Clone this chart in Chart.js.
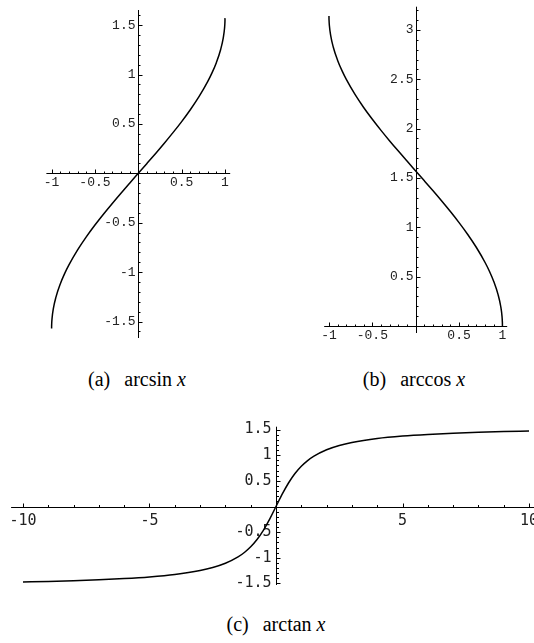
<!DOCTYPE html>
<html>
<head>
<meta charset="utf-8">
<script src="https://cdn.jsdelivr.net/npm/chart.js@4.4.1/dist/chart.umd.min.js"></script>
<style>
  html, body { margin:0; padding:0; background:#fff; width:534px; height:643px; overflow:hidden; }
  canvas { position:absolute; }
  .cap { position:absolute; font-family:"Liberation Serif", "Times New Roman", serif; font-size:20px; line-height:20px; color:#000; white-space:nowrap; transform:translateX(-50%); }
  .cap i { font-style:italic; }
  .cap .sep { display:inline-block; width:0.7em; }
</style>
</head>
<body>
<canvas id="ca" width="270" height="345" style="left:0;top:0"></canvas>
<canvas id="cb" width="254" height="345" style="left:280px;top:0"></canvas>
<canvas id="cc" width="560" height="200" style="left:0;top:400px"></canvas>
<div class="cap" style="left:137px;top:369px">(a)<span class="sep"></span>arcsin <i>x</i></div>
<div class="cap" style="left:414px;top:369px">(b)<span class="sep"></span>arccos <i>x</i></div>
<div class="cap" style="left:276px;top:614px">(c)<span class="sep"></span>arctan <i>x</i></div>
<script>
// ---- data ----
const asinX = [-1, -0.9999, -0.999, -0.995, -0.98, -0.95, -0.9, -0.85, -0.8, -0.7, -0.6, -0.5, -0.4, -0.3, -0.2, -0.1, 0,
               0.1, 0.2, 0.3, 0.4, 0.5, 0.6, 0.7, 0.8, 0.85, 0.9, 0.95, 0.98, 0.995, 0.999, 0.9999, 1];
const asinY = [-1.5708, -1.5566, -1.5261, -1.4707, -1.3705, -1.2532, -1.1198, -1.0160, -0.9273, -0.7754, -0.6435, -0.5236, -0.4115, -0.3047, -0.2014, -0.1002, 0,
               0.1002, 0.2014, 0.3047, 0.4115, 0.5236, 0.6435, 0.7754, 0.9273, 1.0160, 1.1198, 1.2532, 1.3705, 1.4707, 1.5261, 1.5566, 1.5708];
const acosX = asinX;
const acosY = [3.1416, 3.1274, 3.0969, 3.0415, 2.9413, 2.8240, 2.6906, 2.5868, 2.4981, 2.3462, 2.2143, 2.0944, 1.9823, 1.8755, 1.7722, 1.6710, 1.5708,
               1.4706, 1.3694, 1.2661, 1.1593, 1.0472, 0.9273, 0.7954, 0.6435, 0.5548, 0.4510, 0.3176, 0.2003, 0.1001, 0.0447, 0.0141, 0];
const atanX = [-10, -9, -8, -7, -6, -5, -4, -3, -2.5, -2, -1.5, -1.25, -1, -0.75, -0.5, -0.25, 0,
               0.25, 0.5, 0.75, 1, 1.25, 1.5, 2, 2.5, 3, 4, 5, 6, 7, 8, 9, 10];
const atanY = [-1.4711, -1.4601, -1.4464, -1.4289, -1.4056, -1.3734, -1.3258, -1.2490, -1.1903, -1.1071, -0.9828, -0.8961, -0.7854, -0.6435, -0.4636, -0.2450, 0,
               0.2450, 0.4636, 0.6435, 0.7854, 0.8961, 0.9828, 1.1071, 1.1903, 1.2490, 1.3258, 1.3734, 1.4056, 1.4289, 1.4464, 1.4601, 1.4711];

const aXTicks = [-1, -0.5, 0.5, 1];        const aXLabels = ['-1', '-0.5', '0.5', '1'];
const aYTicks = [-1.5, -1, -0.5, 0.5, 1, 1.5]; const aYLabels = ['-1.5', '-1', '-0.5', '0.5', '1', '1.5'];
const bXTicks = [-1, -0.5, 0.5, 1];        const bXLabels = ['-1', '-0.5', '0.5', '1'];
const bYTicks = [0.5, 1, 1.5, 2, 2.5, 3];  const bYLabels = ['0.5', '1', '1.5', '2', '2.5', '3'];
const cXTicks = [-10, -5, 5, 10];          const cXLabels = ['-10', '-5', '5', '10'];
const cYTicks = [-1.5, -1, -0.5, 0.5, 1, 1.5]; const cYLabels = ['-1.5', '-1', '-0.5', '0.5', '1', '1.5'];

// ---- axes plugin (Mathematica style, axes through origin) ----
function mathAxes(cfg) {
  return {
    id: 'mathAxes',
    beforeDatasetsDraw(chart) {
      const ctx = chart.ctx, a = chart.chartArea;
      const sx = chart.scales.x, sy = chart.scales.y;
      const x0 = Math.round(sx.getPixelForValue(0)) + 0.5;
      const y0 = Math.round(sy.getPixelForValue(0)) + 0.5;
      ctx.save();
      ctx.strokeStyle = '#000';
      ctx.lineWidth = 1;
      ctx.beginPath();
      ctx.moveTo(a.left, y0); ctx.lineTo(a.right, y0);
      ctx.moveTo(x0, a.top); ctx.lineTo(x0, a.bottom);
      const near = (v, arr) => arr.some(t => Math.abs(t - v) < 1e-6);
      for (let k = Math.ceil(sx.min / cfg.xMinor - 1e-9); k * cfg.xMinor <= sx.max + 1e-9; k++) {
        const v = k * cfg.xMinor;
        if (Math.abs(v) < 1e-9) continue;
        const len = near(v, cfg.xTicks) ? cfg.major : cfg.minor;
        const p = Math.round(sx.getPixelForValue(v)) + 0.5;
        ctx.moveTo(p, y0); ctx.lineTo(p, y0 - len);
      }
      for (let k = Math.ceil(sy.min / cfg.yMinor - 1e-9); k * cfg.yMinor <= sy.max + 1e-9; k++) {
        const v = k * cfg.yMinor;
        if (Math.abs(v) < 1e-9) continue;
        const len = near(v, cfg.yTicks) ? cfg.major : cfg.minor;
        const p = Math.round(sy.getPixelForValue(v)) + 0.5;
        ctx.moveTo(x0, p); ctx.lineTo(x0 + len, p);
      }
      ctx.stroke();
      ctx.fillStyle = '#222';
      ctx.font = cfg.font;
      ctx.textBaseline = 'middle';
      ctx.textAlign = 'center';
      cfg.xTicks.forEach((v, i) => ctx.fillText(cfg.xLabels[i], sx.getPixelForValue(v), y0 + cfg.xLabOff));
      ctx.textAlign = 'right';
      cfg.yTicks.forEach((v, i) => ctx.fillText(cfg.yLabels[i], x0 - cfg.yLabOff, sy.getPixelForValue(v)));
      ctx.restore();
    }
  };
}

function makeChart(id, xs, ys, range, pad, cfg) {
  return new Chart(document.getElementById(id), {
    type: 'scatter',
    data: { datasets: [{
      data: xs.map((x, i) => ({ x: x, y: ys[i] })),
      showLine: true, pointRadius: 0, borderColor: '#000', borderWidth: 1.5,
      fill: false, cubicInterpolationMode: 'monotone'
    }] },
    options: {
      responsive: false, animation: false, events: [],
      devicePixelRatio: 1,
      layout: { padding: pad },
      plugins: { legend: { display: false }, tooltip: { enabled: false } },
      scales: {
        x: { type: 'linear', min: range[0], max: range[1], display: false },
        y: { type: 'linear', min: range[2], max: range[3], display: false }
      }
    },
    plugins: [mathAxes(cfg)]
  });
}

const courier = '13px "Liberation Mono", "Courier New", monospace';
makeChart('ca', asinX, asinY, [-1.06, 1.06, -1.667, 1.653],
  { left: 46.4, right: 39.8, top: 10, bottom: 7 },
  { xTicks: aXTicks, xLabels: aXLabels, yTicks: aYTicks, yLabels: aYLabels,
    xMinor: 0.1, yMinor: 0.1, major: 4, minor: 2, font: courier, xLabOff: 9, yLabOff: 3 });
makeChart('cb', acosX, acosY, [-1.055, 1.055, -0.0707, 3.235],
  { left: 44.2, right: 26.8, top: 6.7, bottom: 12 },
  { xTicks: bXTicks, xLabels: bXLabels, yTicks: bYTicks, yLabels: bYLabels,
    xMinor: 0.1, yMinor: 0.1, major: 4, minor: 2, font: courier, xLabOff: 9, yLabOff: 3 });
makeChart('cc', atanX, atanY, [-10.47, 10.47, -1.530, 1.556],
  { left: 11.1, right: 19.1, top: 26.7, bottom: 15 },
  { xTicks: cXTicks, xLabels: cXLabels, yTicks: cYTicks, yLabels: cYLabels,
    xMinor: 1, yMinor: 0.1, major: 4, minor: 2.5, font: '15px "DejaVu Sans Mono", monospace', xLabOff: 14, yLabOff: 5 });
</script>
</body>
</html>
